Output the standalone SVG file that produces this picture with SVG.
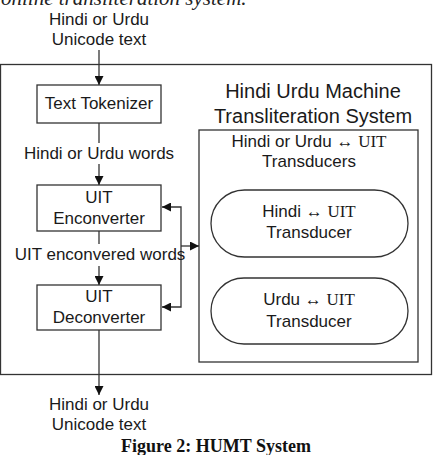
<svg xmlns="http://www.w3.org/2000/svg" width="435" height="455" viewBox="0 0 435 455">
<style>
.t{font-family:"Liberation Sans",Arial,sans-serif;font-size:17px;fill:#1a1a1a;text-anchor:middle}
.h{font-size:20px}
.s{font-family:"Liberation Serif","Times New Roman",serif}
.box{fill:#fff;stroke:#333;stroke-width:1.3}
.ln{fill:none;stroke:#333;stroke-width:1.3}
</style>
<defs>
<marker id="ah" viewBox="0 0 10 10" refX="10" refY="5" markerWidth="9" markerHeight="9" markerUnits="userSpaceOnUse" orient="auto-start-reverse">
<path d="M0,0 L10,5 L0,10 z" fill="#111"/>
</marker>
</defs>
<rect width="435" height="455" fill="#fff"/>
<text x="1" y="5" font-family="Liberation Serif,serif" font-style="italic" font-size="21" fill="#222">online transliteration system.</text>

<g id="system">
<rect class="box" x="0.5" y="64.5" width="431" height="310"/>
<text class="t h" x="313" y="98">Hindi Urdu Machine</text>
<text class="t h" x="313" y="123">Transliteration System</text>
</g>
<g id="transducers">
<rect class="box" x="199" y="130" width="219" height="232"/>
<text class="t" x="309" y="147">Hindi or Urdu ↔ <tspan class="s">UIT</tspan></text>
<text class="t" x="309" y="167">Transducers</text>
</g>
<g id="hindi-transducer">
<rect class="box" x="211" y="190" width="197" height="67" rx="33.5"/>
<text class="t" x="309" y="217">Hindi ↔ <tspan class="s">UIT</tspan></text>
<text class="t" x="309" y="238">Transducer</text>
</g>
<g id="urdu-transducer">
<rect class="box" x="211" y="278" width="197" height="66" rx="33"/>
<text class="t" x="309" y="305">Urdu ↔ <tspan class="s">UIT</tspan></text>
<text class="t" x="309" y="327">Transducer</text>
</g>
<g id="tokenizer">
<rect class="box" x="37" y="85" width="124" height="38"/>
<text class="t" x="99" y="109">Text Tokenizer</text>
</g>
<g id="enconverter">
<rect class="box" x="37" y="185" width="124" height="46"/>
<text class="t" x="99" y="203">UIT</text>
<text class="t" x="99" y="224">Enconverter</text>
</g>
<g id="deconverter">
<rect class="box" x="37" y="285" width="124" height="45"/>
<text class="t" x="99" y="302">UIT</text>
<text class="t" x="99" y="323">Deconverter</text>
</g>
<g id="connectors">
<line class="ln" x1="99" y1="50" x2="99" y2="85" marker-end="url(#ah)"/>
<line class="ln" x1="99" y1="123" x2="99" y2="143"/>
<line class="ln" x1="99" y1="164" x2="99" y2="185" marker-end="url(#ah)"/>
<line class="ln" x1="99" y1="231" x2="99" y2="244"/>
<line class="ln" x1="99" y1="266" x2="99" y2="285" marker-end="url(#ah)"/>
<line class="ln" x1="99" y1="330" x2="99" y2="395" marker-end="url(#ah)"/>
<polyline class="ln" points="162,207 181,207 181,307 162,307" marker-start="url(#ah)" marker-end="url(#ah)"/>
<line class="ln" x1="181" y1="246" x2="199" y2="246" marker-end="url(#ah)"/>
</g>
<g id="labels">
<text class="t" x="99" y="25">Hindi or Urdu</text>
<text class="t" x="99" y="45">Unicode text</text>
<text class="t" x="99" y="159">Hindi or Urdu words</text>
<text class="t" x="100" y="260">UIT enconvered words</text>
<text class="t" x="99" y="410">Hindi or Urdu</text>
<text class="t" x="99" y="430">Unicode text</text>
</g>
<text x="216" y="452" font-family="Liberation Serif,'Times New Roman',serif" font-weight="bold" font-size="18" fill="#111" text-anchor="middle">Figure 2: HUMT System</text>
</svg>
